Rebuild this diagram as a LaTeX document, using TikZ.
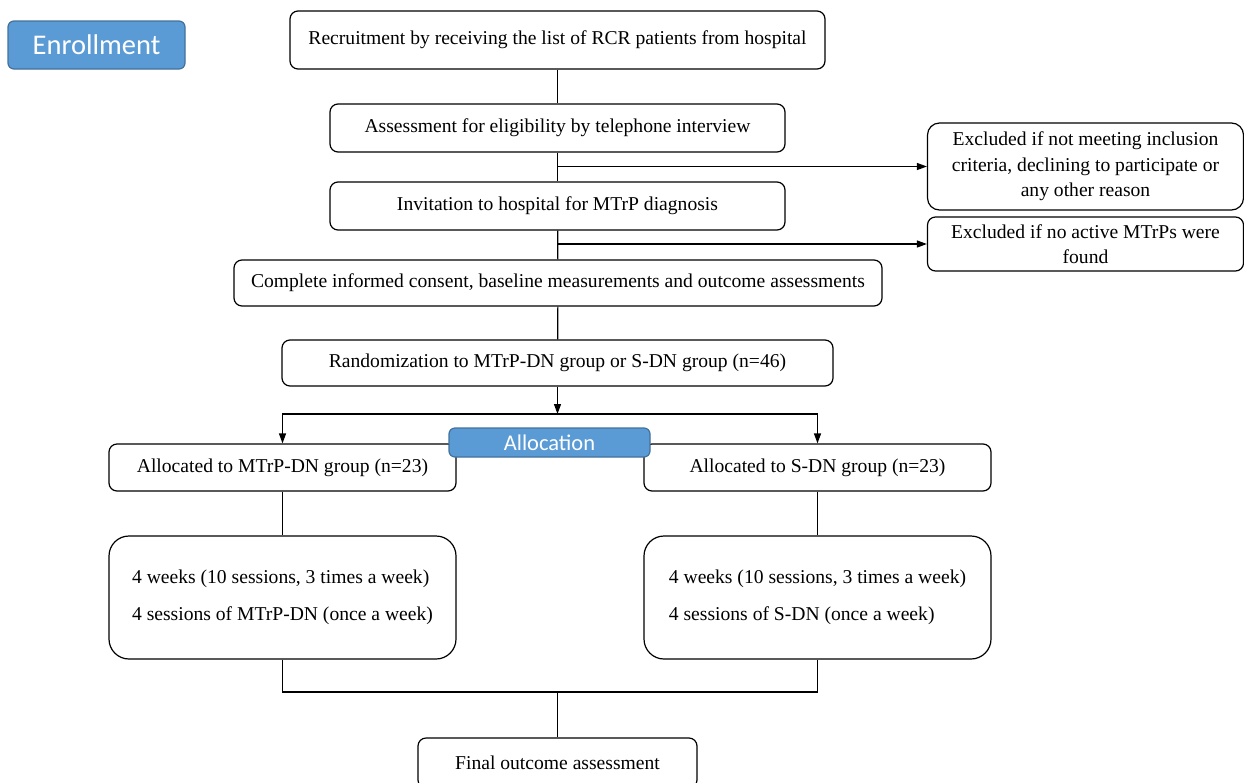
\documentclass[tikz,border=0pt]{standalone}
\usepackage{fontspec}
\setmainfont{Liberation Serif}
\newfontfamily\labelfont{Carlito}
\usetikzlibrary{arrows.meta}

\definecolor{stageblue}{RGB}{91,155,213}
\definecolor{stageedge}{RGB}{65,113,156}

\tikzset{every picture/.style={line width=1.2pt}}
\tikzset{
  flowbox/.style={draw, rounded corners=8pt, align=center, inner sep=1pt,
    font=\fontsize{19.6}{25.5}\selectfont},
  stagebox/.style={draw=stageedge, fill=stageblue, rounded corners=6pt, text=white,
    inner sep=1pt},
  tonext/.style={-{Triangle[length=10pt,width=7pt]}},
}

\begin{document}
\begin{tikzpicture}[x=1pt,y=1pt,yscale=-1,xscale=1]
    \useasboundingbox (0,0) rectangle (1244,782);

    % Stage labels
    \node [stagebox, minimum width=177pt, minimum height=48pt, font=\labelfont\fontsize{28.5}{32}\selectfont] (enrol) at (96.5,45) {Enrollment};

    % Enrollment boxes
    \node [flowbox, minimum width=535pt, minimum height=58pt] (recruit) at (557.5,40) {Recruitment by receiving the list of RCR patients from hospital};
    \node [flowbox, minimum width=455pt, minimum height=48pt] (assess) at (557.5,128) {Assessment for eligibility by telephone interview};
    \node [flowbox, rounded corners=12pt, minimum width=316pt, minimum height=87pt] (excl1) at (1085.5,166.5) {Excluded if not meeting inclusion\\criteria, declining to participate or\\any other reason};
    \node [flowbox, minimum width=455pt, minimum height=48pt] (invite) at (557.5,206) {Invitation to hospital for MTrP diagnosis};
    \node [flowbox, minimum width=316pt, minimum height=54pt] (excl2) at (1085.5,244) {Excluded if no active MTrPs were\\found};
    \node [flowbox, minimum width=648pt, minimum height=46pt] (consent) at (558,283) {Complete informed consent, baseline measurements and outcome assessments};
    \node [flowbox, minimum width=551pt, minimum height=46pt] (random) at (557.5,363) {Randomization to MTrP-DN group or S-DN group (n=46)};

    % Allocation boxes
    \node [flowbox, minimum width=347pt, minimum height=47pt] (allocL) at (282.5,467.5) {Allocated to MTrP-DN group (n=23)};
    \node [flowbox, minimum width=347pt, minimum height=47pt] (allocR) at (817.5,467.5) {Allocated to S-DN group (n=23)};
    \node [stagebox, minimum width=201pt, minimum height=29pt, font=\labelfont\fontsize{22.5}{26}\selectfont] (alloc) at (549.5,442.5) {Allocation};

    % Treatment boxes
    \node [flowbox, rounded corners=20pt, align=left, minimum width=347pt, minimum height=123pt] (treatL) at (282.5,597.5) {4 weeks (10 sessions, 3 times a week)\\[12pt]4 sessions of MTrP-DN (once a week)};
    \node [flowbox, rounded corners=20pt, align=left, minimum width=347pt, minimum height=123pt] (treatR) at (817.5,597.5) {4 weeks (10 sessions, 3 times a week)\\[12pt]4 sessions of S-DN (once a week)};

    % Follow-up
    \node [flowbox, minimum width=279pt, minimum height=50pt] (final) at (557.5,763) {Final outcome assessment};

    % Connectors
    \draw (recruit) -- (assess);
    \draw (assess) -- (invite);
    \draw [tonext] (assess.south |- excl1.west) -- (excl1.west);
    \draw (invite) -- (consent);
    \draw [tonext] (invite.south |- excl2.west) -- (excl2.west);
    \draw (consent) -- (random);

    \coordinate (split) at (557.5,414);
    \draw [tonext] (random) -- (split);
    \draw [tonext] (split) -| (allocL.north);
    \draw [tonext] (split) -| (allocR.north);

    \draw (allocL) -- (treatL);
    \draw (allocR) -- (treatR);

    \coordinate (join) at (557.5,692);
    \draw (treatL.south) |- (join) -| (treatR.south);
    \draw (join) -- (final);

\end{tikzpicture}
\end{document}
